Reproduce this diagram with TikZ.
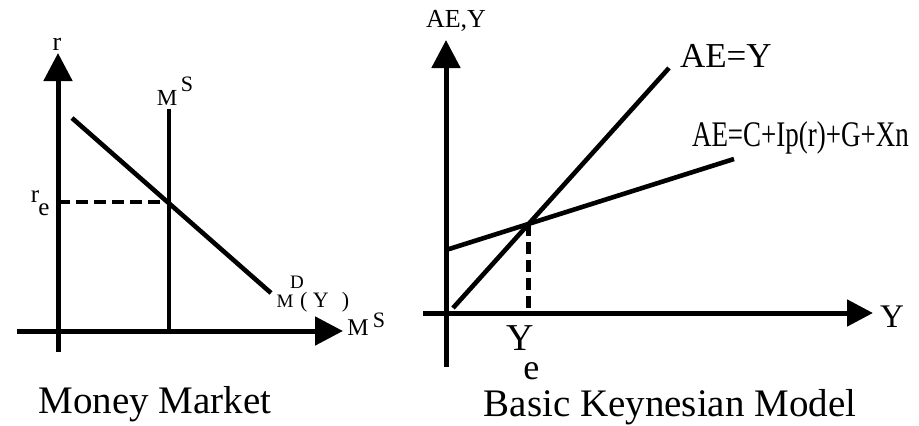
\documentclass[tikz,border=0pt]{standalone}
\usepackage{fontspec}
\setmainfont{Liberation Serif}
\usetikzlibrary{arrows.meta}
\newcommand{\fs}[1]{\fontsize{#1}{#1}\selectfont}
\tikzset{
  axis/.style={line width=5pt,-{Triangle[length=28pt,width=28pt]}},
  curve/.style={line width=4.6pt},
  guide/.style={line width=4.6pt,dash pattern=on 12pt off 6pt},
  lbl/.style={inner sep=0pt,outer sep=0pt,anchor=base},
}
\begin{document}
\begin{tikzpicture}[x=1pt,y=-1pt]
\useasboundingbox (0,0) rectangle (919,426);
% ---------- Money market ----------
\coordinate (lo) at (58,352);
\coordinate (ltop) at (58,53);
\coordinate (lxl) at (17,331);
\coordinate (lxr) at (343,331);
\coordinate (msb) at (169,331);
\coordinate (mst) at (169,109);
\coordinate (mda) at (72,118);
\coordinate (mdb) at (271,293);
\coordinate (re) at (58,202);
\coordinate (eqm) at (169,202);
\draw[axis] (lo) -- (ltop);
\draw[axis] (lxl) -- (lxr);
\draw[curve] (msb) -- (mst);
\draw[curve] (mda) -- (mdb);
\draw[guide] (re) -- (eqm);
\node[lbl] (rlab) at (57,50) {\fs{26}r};
\node[lbl] (relr) at (35,202) {\fs{25}r};
\node[lbl] (rele) at (44,215) {\fs{25}e};
\node[lbl] (msm) at (167,105) {\fs{23}M};
\node[lbl] (mss) at (187,91) {\fs{22}S};
\node[lbl] (mdm) at (285,307) {\fs{19}M};
\node[lbl] (mdd) at (297,288) {\fs{19}D};
\node[lbl,anchor=base west] (mdy) at (300,307) {\fs{22}( Y\hspace{0.6em})};
\node[lbl] (mxm) at (358,335) {\fs{24}M};
\node[lbl] (mxs) at (379,327) {\fs{22}S};
\node[lbl] (mm) at (155,413) {\fs{39}Money Market};
% ---------- Keynesian model ----------
\coordinate (ko) at (446,367);
\coordinate (ktop) at (446,40);
\coordinate (kxl) at (423,313);
\coordinate (kxr) at (873,313);
\coordinate (aya) at (453,308);
\coordinate (ayb) at (669,68);
\coordinate (aea) at (446,250);
\coordinate (aeb) at (734,159);
\coordinate (ye) at (intersection of aya--ayb and aea--aeb);
\coordinate (yeb) at (ye |- kxl);
\draw[axis] (ko) -- (ktop);
\draw[axis,-{Triangle[length=26pt,width=26pt]}] (kxl) -- (kxr);
\draw[curve] (aya) -- (ayb);
\draw[curve] (aea) -- (aeb);
\draw[guide] (ye) -- (yeb);
\node[lbl] (aeylab) at (456,27) {\fs{26}AE,Y};
\node[lbl,anchor=base west] (ayl) at (680,67) {\fs{35}AE=Y};
\node[lbl,anchor=base west] (ael) at (692,146) {\fs{36}\scalebox{0.75}[1]{AE=C+Ip(r)+G+Xn}};
\node[lbl,anchor=base west] (ylab) at (880,327) {\fs{33}Y};
\node[lbl,anchor=base west] (yelab) at (506,350) {\fs{38}Y\kern-10pt\raisebox{-29pt}{\fs{36}e}};
\node[lbl] (bkm) at (670,416) {\fs{39}Basic Keynesian Model};
\end{tikzpicture}
\end{document}
